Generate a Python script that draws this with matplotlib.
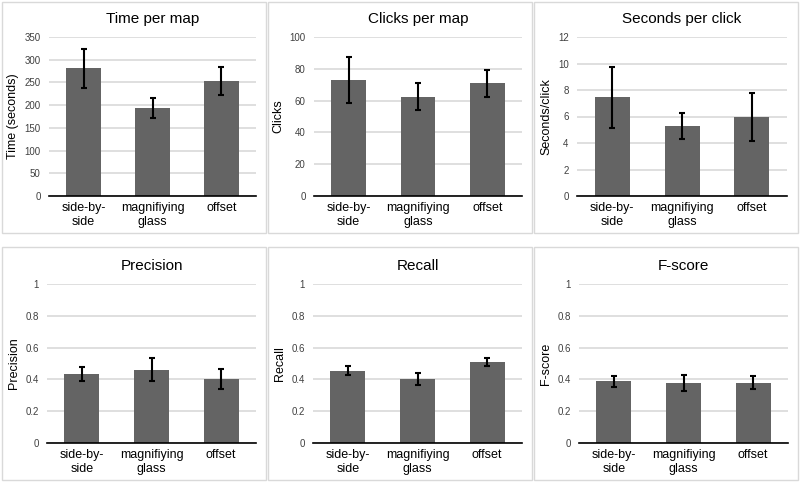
import matplotlib.pyplot as plt
from matplotlib.patches import Rectangle

plt.rcParams['font.family'] = ['Liberation Sans', 'DejaVu Sans']

categories = ["side-by-\nside", "magnifiying\nglass", "offset"]

time_mean = [281, 193, 253]
time_err = [43, 22, 30]
clicks_mean = [73, 62.5, 71]
clicks_err = [14.5, 8.5, 8.5]
spc_mean = [7.45, 5.3, 5.95]
spc_err = [2.3, 1.0, 1.8]
precision_mean = [0.435, 0.46, 0.40]
precision_err = [0.045, 0.073, 0.063]
recall_mean = [0.455, 0.405, 0.51]
recall_err = [0.03, 0.038, 0.027]
fscore_mean = [0.388, 0.38, 0.38]
fscore_err = [0.033, 0.05, 0.043]

panels = [
    ("Time per map", "Time (seconds)", time_mean, time_err, 350, 50, None),
    ("Clicks per map", "Clicks", clicks_mean, clicks_err, 100, 20, None),
    ("Seconds per click", "Seconds/click", spc_mean, spc_err, 12, 2, None),
    ("Precision", "Precision", precision_mean, precision_err, 1, 0.2, "f"),
    ("Recall", "Recall", recall_mean, recall_err, 1, 0.2, "f"),
    ("F-score", "F-score", fscore_mean, fscore_err, 1, 0.2, "f"),
]

W, H = 800, 482
fig = plt.figure(figsize=(W / 100, H / 100), dpi=100)

# panel boxes (pixels): left, top, right, bottom
boxes = [(2, 2, 266, 233), (268, 2, 532, 233), (534, 2, 798, 233),
         (2, 247, 266, 480), (268, 247, 532, 480), (534, 247, 798, 480)]
# plot areas (pixels): left, top, right, bottom
areas = [(49, 37, 256, 196), (314, 37, 522, 196), (577, 37, 787, 196),
         (47, 284, 256, 443), (313, 284, 522, 443), (579, 284, 788, 443)]

for i, (title, ylabel, mean, err, ymax, step, fmt) in enumerate(panels):
    bl, bt, br, bb = boxes[i]
    fig.patches.append(Rectangle((bl / W, 1 - bb / H), (br - bl) / W, (bb - bt) / H,
                                 transform=fig.transFigure, fill=False,
                                 edgecolor="#d9d9d9", linewidth=1))
    l, t, r, b = areas[i]
    ax = fig.add_axes([l / W, 1 - b / H, (r - l) / W, (b - t) / H])
    x = range(len(categories))
    ax.bar(x, mean, width=0.5, color="#646464", zorder=2)
    ax.errorbar(x, mean, yerr=err, fmt="none", ecolor="black", elinewidth=1.5,
                capsize=2.5, capthick=1.5, zorder=3)
    ax.set_xlim(-0.5, 2.5)
    ax.set_ylim(0, ymax)
    ticks = [k * step for k in range(int(round(ymax / step)) + 1)]
    ax.set_yticks(ticks)
    if fmt:
        ax.set_yticklabels(["0" if v == 0 else ("1" if abs(v - 1) < 1e-9 else f"{v:.1f}") for v in ticks])
    ax.yaxis.grid(True, color="#d9d9d9", linewidth=1.2, zorder=0)
    ax.set_axisbelow(True)
    for s in ["top", "right", "left"]:
        ax.spines[s].set_visible(False)
    ax.spines["bottom"].set_color("black")
    ax.spines["bottom"].set_linewidth(1.2)
    ax.tick_params(axis="y", length=0, labelsize=7, colors="#404040", pad=6)
    ax.tick_params(axis="x", length=0, labelsize=9, pad=4)
    ax.set_xticks(list(x))
    ax.set_xticklabels(categories, linespacing=1.25)
    ax.set_ylabel(ylabel, fontsize=9, labelpad=4)
    ax.set_title(title, fontsize=11, pad=10)

fig.savefig("out.png", dpi=100)
